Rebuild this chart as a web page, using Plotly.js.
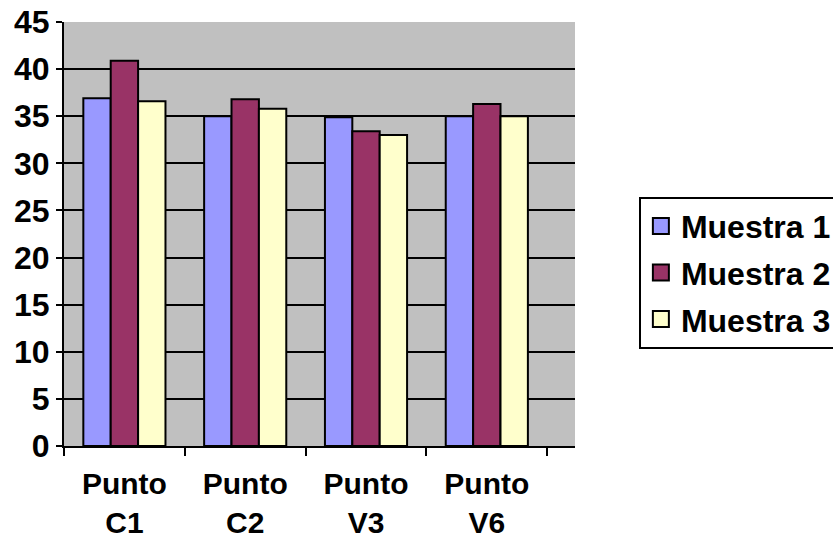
<!DOCTYPE html>
<html>
<head>
<meta charset="utf-8">
<script src="https://cdn.plot.ly/plotly-3.0.1.min.js"></script>
<style>html,body{margin:0;padding:0;background:#fff;}#chart{width:833px;height:543px;}</style>
</head>
<body>
<div id="chart"></div>
<script>
var categories = ["Punto<br>C1", "Punto<br>C2", "Punto<br>V3", "Punto<br>V6"];
var seriesNames = ["Muestra 1", "Muestra 2", "Muestra 3"];
var muestra1 = [36.9, 35.0, 34.9, 35.0];
var muestra2 = [40.9, 36.8, 33.4, 36.3];
var muestra3 = [36.6, 35.8, 33.0, 35.0];
var yTicks = [0, 5, 10, 15, 20, 25, 30, 35, 40, 45];

var colors = ["#9999FF", "#993366", "#FFFFCC"];
var values = [muestra1, muestra2, muestra3];
var FONT = "Arial, 'Liberation Sans', sans-serif";

var data = [];
values.forEach(function (v, i) {
  data.push({
    type: "bar", x: categories, y: v, name: seriesNames[i], showlegend: false,
    marker: {color: colors[i], line: {color: "#000", width: 2}}
  });
});
values.forEach(function (v, i) {
  data.push({
    type: "scatter", mode: "markers", x: [null], y: [null], name: seriesNames[i],
    legendgroup: "g" + i,
    marker: {symbol: "square", size: 19, color: colors[i], line: {color: "#000", width: 2}},
    hoverinfo: "skip"
  });
});

var layout = {
  width: 833, height: 543,
  margin: {l: 64, r: 258, t: 22, b: 97, autoexpand: false},
  paper_bgcolor: "#fff",
  plot_bgcolor: "#C0C0C0",
  barmode: "group", bargap: 0.32, bargroupgap: 0,
  font: {family: FONT, size: 32, color: "#000", weight: "bold"},
  xaxis: {
    type: "category", range: [-0.5, 3.73],
    showline: true, linecolor: "#000", linewidth: 2,
    ticks: "outside", tickson: "boundaries", ticklen: 8, tickwidth: 2, tickcolor: "#000",
    ticklabelstandoff: 10,
    showgrid: false, zeroline: false,
    tickfont: {family: FONT, size: 30, color: "#000", weight: "bold"}
  },
  yaxis: {
    range: [0, 45], tickvals: yTicks, ticktext: yTicks.map(String),
    showline: true, linecolor: "#000", linewidth: 2,
    ticks: "outside", ticklen: 6, tickwidth: 2, tickcolor: "#000",
    showgrid: true, gridcolor: "#000", gridwidth: 2, zeroline: false,
    tickfont: {family: FONT, size: 32, color: "#000", weight: "bold"}
  },
  legend: {
    x: 1.125, xanchor: "left", y: 0.409, yanchor: "middle",
    bordercolor: "#000", borderwidth: 2, bgcolor: "#fff",
    font: {family: FONT, size: 32, color: "#000", weight: "bold"},
    itemwidth: 30, traceorder: "grouped", tracegroupgap: 2
  },
  showlegend: true
};

Plotly.newPlot("chart", data, layout, {displayModeBar: false, staticPlot: true});
</script>
</body>
</html>
